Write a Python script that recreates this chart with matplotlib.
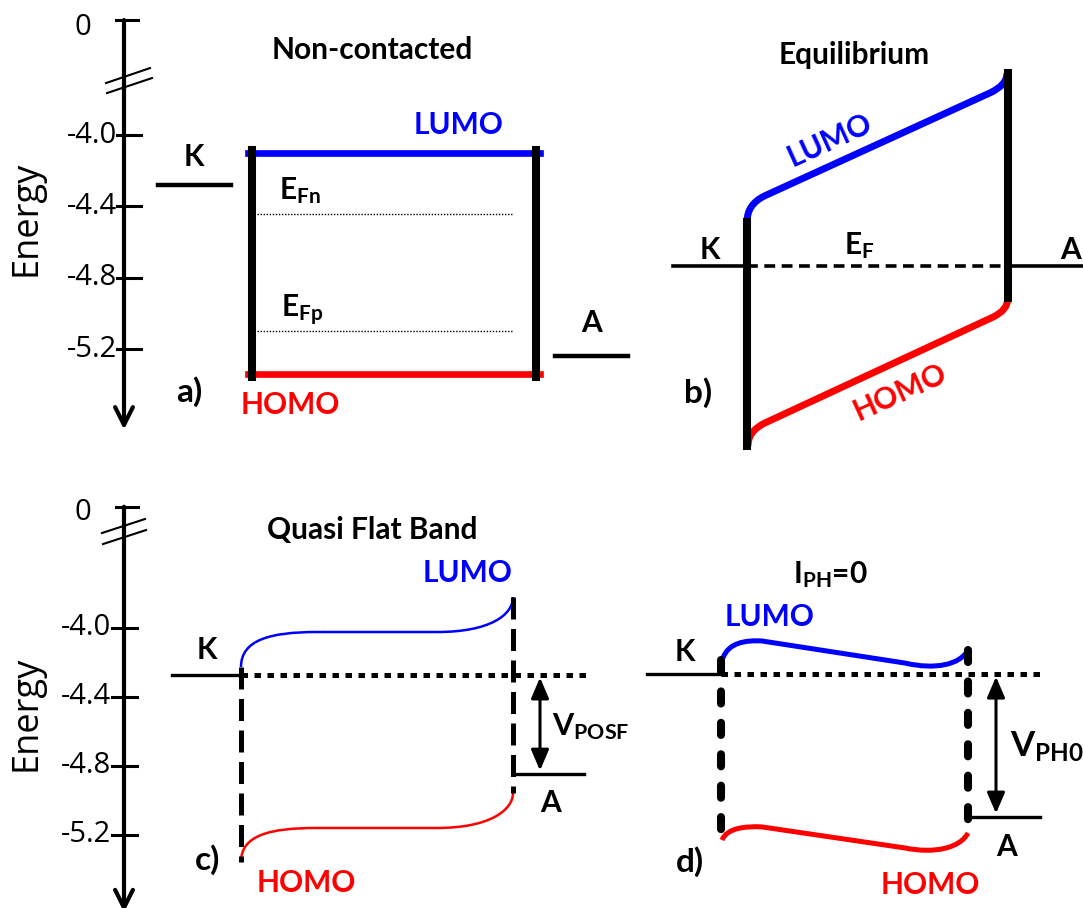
import matplotlib.pyplot as plt
from matplotlib.path import Path
from matplotlib.patches import PathPatch

plt.rcParams['font.family'] = ['Lato', 'DejaVu Sans']
plt.rcParams['mathtext.fontset'] = 'custom'
plt.rcParams['mathtext.rm'] = 'Lato'
plt.rcParams['mathtext.bf'] = 'Lato:bold'
plt.rcParams['mathtext.it'] = 'Lato:italic'

BLUE = '#0000ff'
RED = '#ff0000'
AXFONT = ['Open Sans', 'DejaVu Sans']

# energy axis (eV)
tick_vals = [-4.0, -4.4, -4.8, -5.2]
tick_labels = ['-4.0', '-4.4', '-4.8', '-5.2']
zero_top, zero_bot = -3.356, -3.299   # "0" above the axis break
axis_end = -5.65

# a) non-contacted
a_x = [252, 536]
a_lumo, a_homo = -4.10, -5.34
a_efn, a_efp = -4.44, -5.10
a_k, a_a = -4.28, -5.24
a_k_x = [158, 231]
a_a_x = [555, 628]

# b) equilibrium
b_x = [747, 1008]
b_ef = -4.734
b_lead_x = [673, 1082]
b_lumo_x = [747, 747, 765, 990, 1007, 1007]
b_lumo_e = [-4.487, -4.387, -4.340, -3.764, -3.720, -3.653]
b_homo_x = [748, 748, 765, 993, 1008, 1008]
b_homo_e = [-5.742, -5.658, -5.613, -5.020, -4.980, -4.913]

# c) quasi flat band
c_x = [241, 513]
c_k, c_a = -4.274, -4.848
c_k_x = [172, 241]
c_a_x = [515, 584]
c_ef_end = 590
c_lumo_x = [241, 241, 270, 317, 437, 490, 513, 513]
c_lumo_e = [-4.228, -4.071, -4.025, -4.025, -4.025, -4.025, -3.926, -3.822]
c_homo_e = [-5.358, -5.202, -5.161, -5.161, -5.161, -5.161, -5.057, -4.958]

# d) I_PH = 0
d_x = [721, 968]
d_k, d_a = -4.269, -5.097
d_k_x = [647, 722]
d_a_x = [968, 1040]
d_ef_end = 1043
d_wall_e = [(-4.187, -5.242), (-4.129, -5.184)]
d_lumo_x = [723, 728, 745, 762, 905, 935, 960, 968]
d_lumo_e = [-4.176, -4.089, -4.071, -4.077, -4.205, -4.245, -4.216, -4.129]
d_homo_x = [722, 727, 745, 762, 905, 935, 960, 968]
d_homo_e = [-5.231, -5.161, -5.150, -5.155, -5.277, -5.312, -5.277, -5.190]

M, C3, C4, L = Path.MOVETO, Path.CURVE3, Path.CURVE4, Path.LINETO
codes_b = [M, C3, C3, L, C3, C3]
codes_cd = [M, C4, C4, C4, L, C4, C4, C4]


def curve(ax, xs, es, codes, color, lw):
    p = Path(list(zip(xs, es)), codes)
    ax.add_patch(PathPatch(p, fc='none', ec=color, lw=lw, capstyle='butt',
                           zorder=2, clip_on=False))


def energy_axis(ax, zero, tick_x, lab_x, zero_lab, energy_lab, brk):
    ax.annotate('', xy=(124, axis_end), xytext=(124, zero), annotation_clip=False,
                arrowprops=dict(arrowstyle='->', lw=3, mutation_scale=32,
                                shrinkA=0, shrinkB=0))
    ax.plot([116, 138], [zero, zero], color='k', lw=2.2)
    for v, t in zip(tick_vals, tick_labels):
        ax.plot(tick_x, [v, v], color='k', lw=2.2)
        ax.text(lab_x, v, t, ha='right', va='center', fontsize=21, family=AXFONT)
    ax.text(83, zero_lab, '0', ha='center', va='center', fontsize=21, family=AXFONT)
    ax.text(27, energy_lab, 'Energy', rotation=90, ha='center', va='center',
            fontsize=26, family=AXFONT)
    for bx, be in brk:
        ax.plot(bx, be, color='k', lw=1.5)


fig = plt.figure(figsize=(10.83, 9.08), dpi=100)
ax_t = fig.add_axes([0, 0.5, 1, 0.5])
ax_b = fig.add_axes([0, 0, 1, 0.5])
ax_t.set_xlim(0, 1083)
ax_t.set_ylim(-5.787, -3.2437)
ax_b.set_xlim(0, 1083)
ax_b.set_ylim(-5.625, -2.993)
for ax in (ax_t, ax_b):
    ax.axis('off')

bold = dict(fontweight='bold', fontsize=21.5, ha='center', va='center')
sub = dict(fontsize=21.5, ha='left', va='center')
panel = dict(fontweight='bold', fontsize=24, ha='center', va='center')

# ---------- top row ----------
ax = ax_t
energy_axis(ax, zero_top, [117, 141], 117, -3.395, -4.465,
            [([106, 150], [-3.709, -3.625]), ([107, 152], [-3.765, -3.681])])

# a)
ax.plot([a_x[0] - 4, a_x[1] + 4], [a_lumo, a_lumo], color=BLUE, lw=4.8, zorder=2)
ax.plot([a_x[0] - 4, a_x[1] + 4], [a_homo, a_homo], color=RED, lw=4.8, zorder=2)
for x in a_x:
    ax.plot([x, x], [a_lumo + 0.015, a_homo - 0.015], color='k', lw=5.8, zorder=3)
ax.plot([a_x[0] + 5, 513], [a_efn, a_efn], color='k', lw=1, ls=(0, (1, 1.2)))
ax.plot([a_x[0] + 5, 513], [a_efp, a_efp], color='k', lw=1, ls=(0, (1, 1.2)))
ax.plot(a_k_x, [a_k, a_k], color='k', lw=3.2)
ax.plot(a_a_x, [a_a, a_a], color='k', lw=3.2)
ax.text(372, -3.524, 'Non-contacted', **bold)
ax.text(194, -4.123, 'K', **bold)
ax.text(592, -5.053, 'A', **bold)
ax.text(459, -3.944, 'LUMO', color=BLUE, **bold)
ax.text(290, -5.513, 'HOMO', color=RED, **bold)
ax.text(279, -4.314, r'$\mathbf{E_{Fn}}$', **sub)
ax.text(281, -4.980, r'$\mathbf{E_{Fp}}$', **sub)
ax.text(189, -5.44, 'a)', **panel)

# b)
ax.plot([b_lead_x[0], b_x[0]], [b_ef, b_ef], color='k', lw=2.6)
ax.plot([b_x[1], b_lead_x[1]], [b_ef, b_ef], color='k', lw=2.6)
ax.plot(b_x, [b_ef, b_ef], color='k', lw=2.6, ls=(0, (3, 1.8)))
curve(ax, b_lumo_x, b_lumo_e, codes_b, BLUE, 5)
curve(ax, b_homo_x, b_homo_e, codes_b, RED, 5)
ax.plot([b_x[0], b_x[0]], [b_lumo_e[0], b_homo_e[0]], color='k', lw=5.8, zorder=3)
ax.plot([b_x[1], b_x[1]], [b_lumo_e[-1], b_homo_e[-1]], color='k', lw=5.8, zorder=3)
ax.text(854, -3.552, 'Equilibrium', **bold)
ax.text(710, -4.644, 'K', **bold)
ax.text(1071, -4.644, 'A', **bold)
ax.text(844, -4.622, r'$\mathbf{E_{F}}$', **sub)
ax.text(830, -4.028, 'LUMO', color=BLUE, rotation=24.5, rotation_mode='anchor', **bold)
ax.text(900, -5.44, 'HOMO', color=RED, rotation=24.5, rotation_mode='anchor', **bold)
ax.text(698, -5.445, 'b)', **panel)

# ---------- bottom row ----------
ax = ax_b
energy_axis(ax, zero_bot, [112, 137], 111, -3.335, -4.495,
            [([102, 145], [-3.451, -3.370]), ([103, 146], [-3.515, -3.434])])

arrow = dict(arrowstyle='<|-|>,head_length=0.7,head_width=0.3', lw=2.2,
             mutation_scale=18, color='k', shrinkA=0, shrinkB=0)

# c)
ax.plot(c_k_x, [c_k, c_k], color='k', lw=2.4)
ax.plot(c_a_x, [c_a, c_a], color='k', lw=2.4)
ax.plot([c_x[0], c_ef_end], [c_k, c_k], color='k', lw=3.6, ls=(0, (1.3, 1.3)))
curve(ax, c_lumo_x, c_lumo_e, codes_cd, BLUE, 1.8)
curve(ax, c_lumo_x, c_homo_e, codes_cd, RED, 1.8)
ax.plot([c_x[0], c_x[0]], [c_lumo_e[0], c_homo_e[0]], color='k', lw=3.6,
        ls=(0, (4.4, 1.9)), zorder=3)
ax.plot([c_x[1], c_x[1]], [c_lumo_e[-1], c_homo_e[-1]], color='k', lw=3.6,
        ls=(0, (4.4, 1.9)), zorder=3)
ax.annotate('', xy=(540, c_k - 0.015), xytext=(540, c_a + 0.02), arrowprops=arrow)
ax.text(372, -3.434, 'Quasi Flat Band', **bold)
ax.text(207, -4.129, 'K', **bold)
ax.text(551, -5.016, 'A', **bold)
ax.text(468, -3.683, 'LUMO', color=BLUE, **bold)
ax.text(306, -5.480, 'HOMO', color=RED, **bold)
ax.text(552, -4.576, r'$\mathbf{V_{POSF}}$', fontsize=22, ha='left', va='center')
ax.text(208, -5.346, 'c)', **panel)

# d)
ax.plot(d_k_x, [d_k, d_k], color='k', lw=2.4)
ax.plot(d_a_x, [d_a, d_a], color='k', lw=2.4)
ax.plot([d_x[0], d_ef_end], [d_k, d_k], color='k', lw=3.6, ls=(0, (1.3, 1.3)))
curve(ax, d_lumo_x, d_lumo_e, codes_cd, BLUE, 3.6)
curve(ax, d_homo_x, d_homo_e, codes_cd, RED, 3.6)
for x, (e0, e1) in zip(d_x, d_wall_e):
    ax.plot([x, x], [e0, e1], color='k', lw=5.8, ls=(0, (1.5, 2.4)),
            dash_capstyle='round', zorder=3)
ax.annotate('', xy=(996, d_k - 0.015), xytext=(996, d_a + 0.02), arrowprops=arrow)
ax.text(830, -3.694, r'$\mathbf{I_{PH}}$=0', fontweight='bold', fontsize=21.5,
        ha='center', va='center')
ax.text(685, -4.141, 'K', **bold)
ax.text(1007, -5.271, 'A', **bold)
ax.text(770, -3.938, 'LUMO', color=BLUE, **bold)
ax.text(930, -5.491, 'HOMO', color=RED, **bold)
ax.text(1010, -4.692, r'$\mathbf{V_{PH0}}$', fontsize=25, ha='left', va='center')
ax.text(690, -5.358, 'd)', **panel)

fig.savefig('out.png', dpi=100)
